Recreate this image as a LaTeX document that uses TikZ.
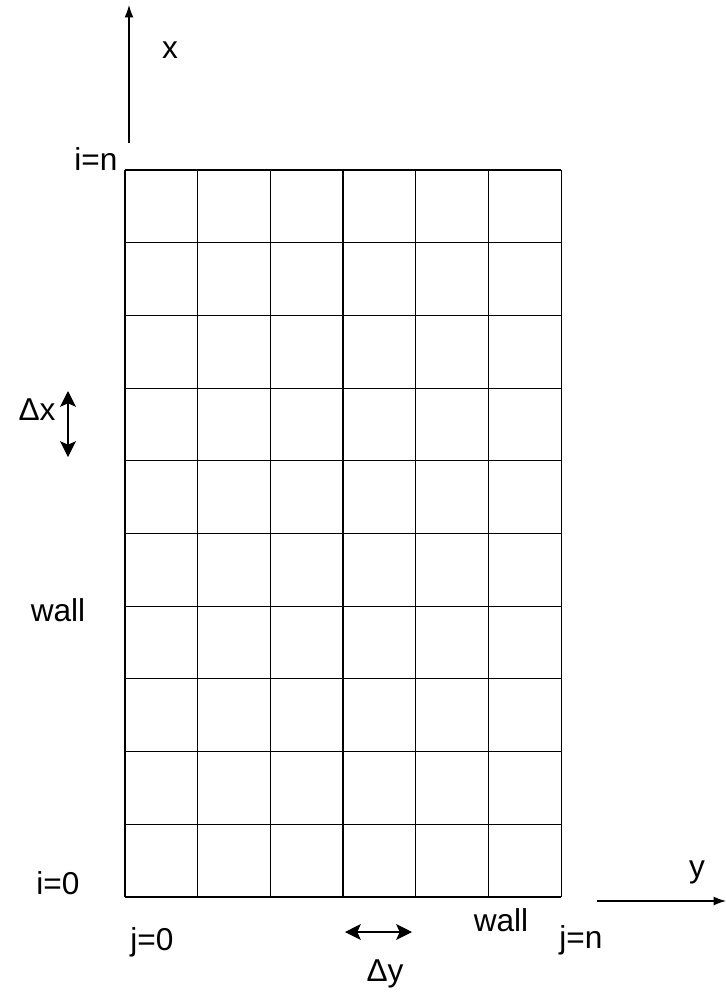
\documentclass[tikz,border=0pt]{standalone}
\usepackage{fontspec}
\setmainfont{Liberation Sans}
\usetikzlibrary{arrows.meta, positioning, calc}

\begin{document}
\begin{tikzpicture}[x=0.02cm, y=-0.02cm,
    lbl/.style={inner sep=1pt, font=\fontsize{18}{21}\selectfont},
    axis/.style={-{Latex[length=7pt, width=5pt]}, line width=0.6pt},
    delta/.style={{Stealth[length=9pt, width=9pt, inset=2pt]}-{Stealth[length=9pt, width=9pt, inset=2pt]}, line width=0.6pt}]
    \useasboundingbox (0,0) rectangle (725,997);

    % Grid of cells
    \foreach \c in {0,...,6} {
        \draw[line width=0.6pt] (125+\c*72.67, 170) -- (125+\c*72.67, 897);
    }
    \foreach \r in {0,...,10} {
        \draw[line width=0.6pt] (125, 170+\r*72.7) -- (561, 170+\r*72.7);
    }

    % Axes
    \coordinate (xa) at (129,143);
    \coordinate (xb) at (129,5);
    \draw[axis] (xa) -- (xb);
    \node[lbl] (xlab) at (170,50) {x};
    \coordinate (ya) at (597,901);
    \coordinate (yb) at (726,901);
    \draw[axis] (ya) -- (yb);
    \node[lbl] (ylab) at (697,872) {y};

    % Index labels
    \node[lbl] (in) at (96,159) {i=n};
    \node[lbl] (i0) at (58,883) {i=0};
    \node[lbl] (j0) at (152,942) {j=0};
    \node[lbl] (jn) at (581,940) {j=n};

    % Walls
    \node[lbl] (wallL) at (58,610) {wall};
    \node[lbl] (wallB) at (501,920) {wall};

    % Spacing
    \node[lbl] (dxlab) at (37,410) {Δx};
    \coordinate (dxa) at (68,391);
    \coordinate (dxb) at (68,457);
    \draw[delta] (dxa) -- (dxb);
    \node[lbl] (dylab) at (385,974) {Δy};
    \coordinate (dya) at (345,932);
    \coordinate (dyb) at (412,932);
    \draw[delta] (dya) -- (dyb);
\end{tikzpicture}
\end{document}
